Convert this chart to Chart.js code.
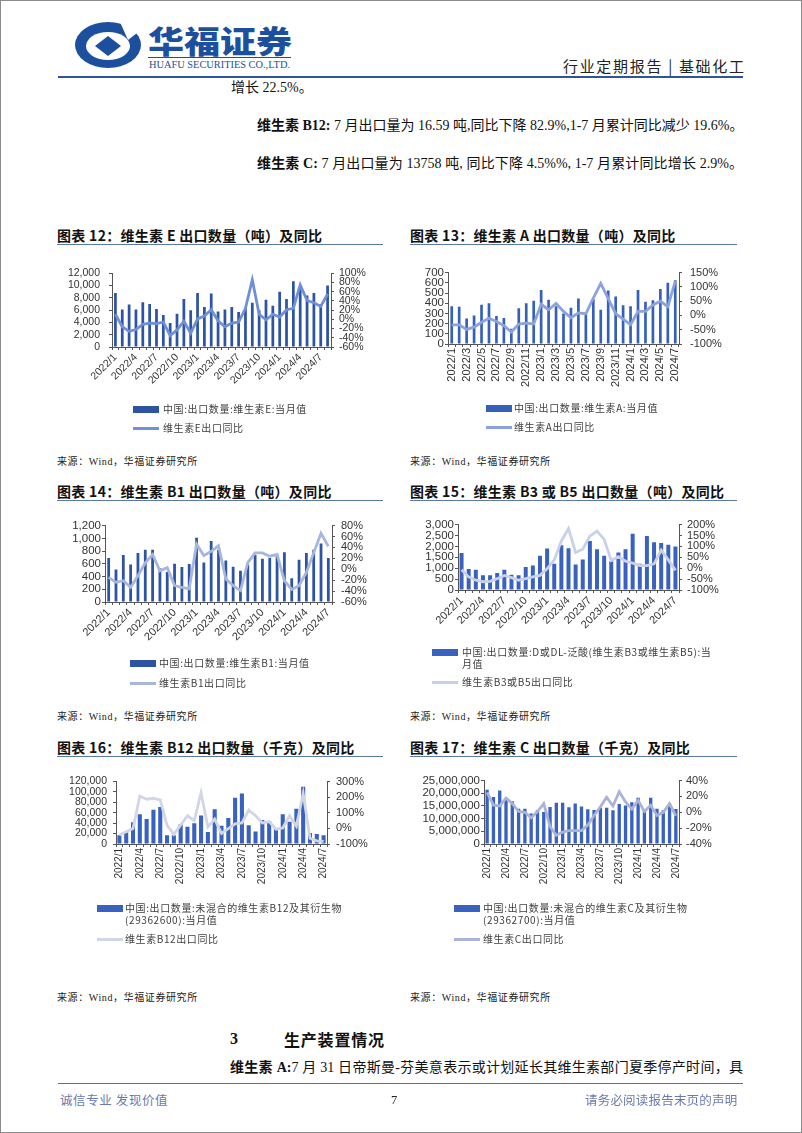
<!DOCTYPE html>
<html>
<head>
<meta charset="utf-8">
<script src="https://cdn.jsdelivr.net/npm/chart.js@4.4.1/dist/chart.umd.min.js"></script>
<style>
  body { margin: 0; background: #fff; }
  #page { position: relative; width: 802px; height: 1133px; overflow: hidden; background: #fff;
          font-family: "Liberation Serif", "Noto Sans CJK SC", serif; color: #111; }
  #frame { position: absolute; left: 0; top: 0; width: 802px; height: 1133px; box-sizing: border-box; border: 1px solid #8c8c8c; }
  .abs { position: absolute; white-space: nowrap; }
  .para { font-size: 14px; line-height: 18px; }
  .just { text-align: justify; text-align-last: justify; }
  .title { font-family: "Noto Sans CJK SC", sans-serif; font-weight: bold; font-size: 14px; line-height: 18px; letter-spacing: 0.3px; color: #111; }
  .rule { position: absolute; height: 0; border-top: 1.5px solid #5a78ad; }
  .src { font-family: "Liberation Serif", "Noto Sans CJK SC", serif; font-size: 10px; line-height: 12px; letter-spacing: 0.6px; color: #222; }
  .legend { position: absolute; display: flex; align-items: flex-start; font-family: "Noto Sans CJK SC", sans-serif;
            font-size: 10px; line-height: 11.7px; letter-spacing: 0.6px; color: #404040; }
  .legend .sw { flex: none; margin-top: 3px; }
  .legend .tx { white-space: pre; }
  canvas { position: absolute; }
  .foot { font-family: "Noto Sans CJK SC", sans-serif; font-size: 12.5px; line-height: 16px; color: #6a79ad; }
</style>
</head>
<body>
<div id="page">
  <!-- header -->
  <svg class="abs" style="left:0;top:0" width="802" height="82">
    <ellipse cx="108" cy="45" rx="33" ry="23" fill="#1d4f9f"/>
    <ellipse cx="108" cy="46" rx="22" ry="14" fill="#fff"/>
    <path d="M108 36 L121 46 L108 56 L95 46 Z" fill="#1d4f9f"/>
    <path d="M120 22 L146 26 L128 40 Z" fill="#fff"/>
    <text x="148" y="53" font-family="Noto Sans CJK SC" font-weight="900" font-size="31" fill="#1d4f9f" textLength="144" lengthAdjust="spacingAndGlyphs">华福证券</text>
    <line x1="148" y1="57.5" x2="291" y2="57.5" stroke="#1d4f9f" stroke-width="1"/>
    <text x="149" y="68" font-family="Liberation Serif" font-size="10.5" fill="#1d4f9f" textLength="141" lengthAdjust="spacingAndGlyphs">HUAFU SECURITIES CO.,LTD.</text>
    <text x="744" y="72" text-anchor="end" font-family="Noto Sans CJK SC" font-size="15" fill="#222" textLength="181" lengthAdjust="spacing">行业定期报告 | 基础化工</text>
    <line x1="58" y1="77" x2="743" y2="77" stroke="#2e5597" stroke-width="2"/>
  </svg>

  <div class="abs para" style="left:231px;top:79px">增长 22.5%。</div>
  <div class="abs para just" style="left:257px;top:117px;width:486px"><b>维生素 B12:</b> 7 月出口量为 16.59 吨,同比下降 82.9%,1-7 月累计同比减少 19.6%。</div>
  <div class="abs para just" style="left:257px;top:155px;width:486px"><b>维生素 C:</b> 7 月出口量为 13758 吨, 同比下降 4.5%%, 1-7 月累计同比增长 2.9%。</div>

  <!-- chart titles -->
  <div class="abs title" style="left:57px;top:226px">图表 12：维生素 E 出口数量（吨）及同比</div>
  <div class="rule" style="left:57px;top:244px;width:326px"></div>
  <div class="abs title" style="left:410px;top:226px">图表 13：维生素 A 出口数量（吨）及同比</div>
  <div class="rule" style="left:410px;top:244px;width:327px"></div>

  <div class="abs title" style="left:57px;top:482px">图表 14：维生素 B1 出口数量（吨）及同比</div>
  <div class="rule" style="left:57px;top:500px;width:326px"></div>
  <div class="abs title" style="left:410px;top:482px">图表 15：维生素 B3 或 B5 出口数量（吨）及同比</div>
  <div class="rule" style="left:410px;top:500px;width:327px"></div>

  <div class="abs title" style="left:57px;top:738px">图表 16：维生素 B12 出口数量（千克）及同比</div>
  <div class="rule" style="left:57px;top:756px;width:326px"></div>
  <div class="abs title" style="left:410px;top:738px">图表 17：维生素 C 出口数量（千克）及同比</div>
  <div class="rule" style="left:410px;top:756px;width:327px"></div>

  <canvas id="c12" width="326" height="137" style="left:57px;top:258px"></canvas>
  <canvas id="c13" width="327" height="132" style="left:410px;top:258px"></canvas>
  <canvas id="c14" width="326" height="132" style="left:57px;top:513px"></canvas>
  <canvas id="c15" width="327" height="120" style="left:410px;top:513px"></canvas>
  <canvas id="c16" width="326" height="122" style="left:57px;top:769px"></canvas>
  <canvas id="c17" width="327" height="122" style="left:410px;top:770px"></canvas>

  <div class="abs src" style="left:57px;top:456px">来源：Wind，华福证券研究所</div>
  <div class="abs src" style="left:410px;top:456px">来源：Wind，华福证券研究所</div>
  <div class="abs src" style="left:57px;top:711px">来源：Wind，华福证券研究所</div>
  <div class="abs src" style="left:410px;top:711px">来源：Wind，华福证券研究所</div>
  <div class="abs src" style="left:57px;top:992px">来源：Wind，华福证券研究所</div>
  <div class="abs src" style="left:410px;top:992px">来源：Wind，华福证券研究所</div>

  <!-- section 3 -->
  <div class="abs" style="left:230px;top:1029px;font-size:16px;font-weight:bold;line-height:20px">3</div>
  <div class="abs" style="left:284px;top:1029px;font-family:'Noto Sans CJK SC';font-size:16px;font-weight:bold;letter-spacing:0.8px;line-height:20px">生产装置情况</div>
  <div class="abs para just" style="left:230px;top:1059px;width:513px"><b>维生素 A:</b>7 月 31 日帝斯曼-芬美意表示或计划延长其维生素部门夏季停产时间，具</div>

  <div class="rule" style="left:58px;top:1083px;width:685px;border-top-color:#5a6fa5"></div>
  <div class="abs foot" style="left:60px;top:1092px;letter-spacing:0.6px">诚信专业 发现价值</div>
  <div class="abs foot" style="left:391px;top:1092px;font-family:'Liberation Serif';color:#222">7</div>
  <div class="abs foot" style="left:585px;top:1092px;letter-spacing:0.2px">请务必阅读报告末页的声明</div>

  <div id="frame"></div>
</div>

<script>
// ---------- data ----------
const months = ['2022/1','2022/2','2022/3','2022/4','2022/5','2022/6','2022/7','2022/8','2022/9','2022/10','2022/11','2022/12',
  '2023/1','2023/2','2023/3','2023/4','2023/5','2023/6','2023/7','2023/8','2023/9','2023/10','2023/11','2023/12',
  '2024/1','2024/2','2024/3','2024/4','2024/5','2024/6','2024/7'];
const monthsE = ['2022/1','2022/2','2022/3','2022/4','2022/5','2022/6','2022/7','2022/8','2022/9','2022/10','2022/11','2022/12',
  '2023/1','2023/2','2023/3','2023/4','2023/5','2023/6','2023/7','2023/8','2023/9','2023/10','2023/11','2023/12',
  '2024/1','2024/2','2024/3','2024/4','2024/5','2024/6','2024/7','2024/8'];

// Vitamin E (tons) and YoY %
const vitE = [8800, 6100, 6900, 6100, 7300, 7000, 6200, 5200, 3900, 5400, 7800, 6000,
  8800, 6500, 8700, 5800, 6100, 6500, 5700, 6400, 7200, 6000, 7700, 6700,
  9000, 7800, 10700, 9600, 8400, 8800, 7000, 10000];
const vitEYoy = [11, -16, -26, -22, -11, -8, -9, -6, -35, -23, -4, -30,
  1, 7, 21, -3, -16, -8, -6, 24, 86, 11, -1, 11,
  5, 21, 24, 75, 41, 36, 28, 55];

// Vitamin A (tons)
const vitA = [370, 365, 250, 280, 385, 400, 275, 255, 150, 350, 400, 425,
  530, 435, 370, 300, 355, 445, 300, 440, 335, 525, 465, 380,
  370, 530, 415, 430, 540, 600, 625];
const vitAYoy = [-33, -33, -49, -41, -24, -10, -21, -36, -58, -30, -27, -30,
  39, 20, 42, 14, -8, 9, 6, 61, 112, 59, 6, -13,
  -32, 14, 14, 37, 50, 31, 120];

// Vitamin B1 (tons)
const vitB1 = [690, 510, 740, 590, 770, 820, 820, 530, 470, 600, 550, 595,
  1010, 620, 960, 820, 650, 555, 490, 590, 740, 680, 690, 740,
  780, 375, 665, 770, 820, 920, 690];
const vitB1Yoy = [-15, -24, -21, -33, -12, 12, 27, -3, 3, -30, -33, -36,
  46, 25, 33, 43, -18, -30, -39, 12, 30, 30, 24, 27,
  -21, -37, -30, -6, 30, 66, 42];

// Vitamin B3 / B5 (tons)
const vitB35 = [1700, 960, 930, 675, 675, 780, 930, 700, 675, 1050, 1125, 1575,
  1900, 1200, 2050, 1920, 1170, 1400, 2250, 1875, 1575, 1320, 1725, 1875,
  2580, 1200, 2475, 2190, 2160, 2070, 1995];
const vitB35Yoy = [-7, -40, -55, -62, -60, -48, -33, -43, -55, -48, -40, -33,
  -3, 38, 125, 182, 72, 87, 147, 170, 132, 35, 53, 32,
  23, 12, 12, 20, 83, 38, -10];

// Vitamin B12 (kg)
const vitB12 = [17000, 22000, 42000, 57000, 48000, 66000, 71000, 17000, 17000, 38000, 33000, 40000,
  55000, 23000, 67000, 35000, 50000, 89000, 97000, 36000, 24000, 46000, 44000, 31000,
  57000, 43000, 68000, 110000, 21000, 19000, 16590];
const vitB12Yoy = [-42, -22, -1, 208, 187, 193, 183, 19, -38, 23, 81, 50,
  229, 9, 60, -32, -1, 29, 35, 118, 81, 35, 44, -5,
  3, 81, 15, 225, -63, -80, -83];

// Vitamin C (kg)
const vitC = [21400000, 18500000, 21100000, 17500000, 16900000, 13900000, 13900000, 12000000, 13300000, 12600000, 14600000, 16300000,
  16300000, 14500000, 16000000, 14800000, 13700000, 13400000, 14300000, 14300000, 13300000, 15800000, 15200000, 16500000,
  18200000, 13500000, 18200000, 13900000, 13300000, 15900000, 13758000];
const vitCYoy = [25, 9, 8, 18, 11, 1, 0, -7, 1, 11, -18, -29,
  -25, -23, -23, -23, -16, -4, 7, 19, 8, 26, 13, 4,
  15, 1, 9, -4, 0, 11, -4.5];

// series names
const barNames = {
  e: '中国:出口数量:维生素E:当月值',
  a: '中国:出口数量:维生素A:当月值',
  b1: '中国:出口数量:维生素B1:当月值',
  b35: '中国:出口数量:D或DL-泛酸(维生素B3或维生素B5):当\n月值',
  b12: '中国:出口数量:未混合的维生素B12及其衍生物\n(29362600):当月值',
  c: '中国:出口数量:未混合的维生素C及其衍生物\n(29362700):当月值'
};
const lineNames = {
  e: '维生素E出口同比',
  a: '维生素A出口同比',
  b1: '维生素B1出口同比',
  b35: '维生素B3或B5出口同比',
  b12: '维生素B12出口同比',
  c: '维生素C出口同比'
};

// ---------- drawing ----------
Chart.defaults.font.family = '"Liberation Sans", Arial, sans-serif';
Chart.defaults.color = '#333';

function buildChart(id, o) {
  const ctx = document.getElementById(id).getContext('2d');
  const axisColor = '#555';
  return new Chart(ctx, {
    data: {
      labels: o.labels,
      datasets: [
        { type: 'line', label: o.lineName, data: o.yoy, yAxisID: 'y1', borderColor: o.lineColor,
          borderWidth: o.lineWidth, pointRadius: 0, tension: 0, order: 0 },
        { type: 'bar', label: o.barName, data: o.bars, yAxisID: 'y', backgroundColor: o.barColor,
          barPercentage: o.barPct, categoryPercentage: 1, order: 1 }
      ]
    },
    options: {
      responsive: false,
      animation: false,
      devicePixelRatio: 1,
      layout: { padding: { top: 10, left: 0, right: 0, bottom: 0 } },
      plugins: { legend: { display: false }, tooltip: { enabled: false } },
      scales: {
        x: {
          grid: { display: true, drawOnChartArea: false, tickLength: 3, color: axisColor },
          border: { color: axisColor },
          ticks: {
            autoSkip: false, minRotation: o.rot, maxRotation: o.rot, padding: 1,
            font: { size: o.xFont }, color: '#333',
            callback: function (v, i) { return i % o.step === 0 ? this.getLabelForValue(v) : ''; }
          },
          afterFit: s => { s.height = o.xH; }
        },
        y: {
          position: 'left', min: o.yMin, max: o.yMax,
          grid: { display: true, drawOnChartArea: false, tickLength: 3, color: axisColor },
          border: { color: axisColor },
          ticks: { stepSize: o.yStep, autoSkip: false, padding: o.lPad, font: { size: o.yFont }, color: '#333',
                   callback: v => v.toLocaleString('en-US') },
          afterFit: s => { s.width = o.leftW; }
        },
        y1: {
          position: 'right', min: o.rMin, max: o.rMax,
          grid: { display: true, drawOnChartArea: false, tickLength: 3, color: axisColor },
          border: { color: axisColor },
          ticks: { stepSize: o.rStep, autoSkip: false, padding: o.rPad, font: { size: o.rFont }, color: '#333',
                   callback: v => v + '%' },
          afterFit: s => { s.width = o.rightW; }
        }
      }
    }
  });
}

function addLegend(left, textLeft, rows, barColor, lineColor, barName, lineName) {
  const page = document.getElementById('page');
  const items = [
    { top: rows[0], name: barName, sw: `width:26px;height:7px;background:${barColor};margin-top:2.5px` },
    { top: rows[1], name: lineName, sw: `width:26px;height:3px;background:${lineColor};margin-top:4.5px` }
  ];
  items.forEach(it => {
    const d = document.createElement('div');
    d.className = 'legend';
    d.style.left = left + 'px';
    d.style.top = (it.top - 6) + 'px';
    d.innerHTML = `<div class="sw" style="${it.sw}"></div><div class="tx" style="margin-left:${textLeft - left - 26}px"></div>`;
    d.querySelector('.tx').textContent = it.name;
    page.appendChild(d);
  });
}

const BAR = '#2d53a3';

buildChart('c12', {
  labels: monthsE, bars: vitE, yoy: vitEYoy, barName: barNames.e, lineName: lineNames.e,
  barColor: BAR, lineColor: '#6f8fd9', lineWidth: 2.8, barPct: 0.4,
  rot: 45, step: 3, xFont: 10.5, xH: 48,
  yMin: 0, yMax: 12000, yStep: 2000, yFont: 10.5, lPad: 9, leftW: 55,
  rMin: -60, rMax: 100, rStep: 20, rFont: 10.5, rPad: 5, rightW: 52
});
addLegend(133, 163, [409, 428], BAR, '#6f8fd9', barNames.e, lineNames.e);

buildChart('c13', {
  labels: months, bars: vitA, yoy: vitAYoy, barName: barNames.a, lineName: lineNames.a,
  barColor: '#3560b8', lineColor: '#8ba2dc', lineWidth: 2.8, barPct: 0.36,
  rot: 90, step: 2, xFont: 11, xH: 46,
  yMin: 0, yMax: 700, yStep: 100, yFont: 11.5, lPad: 1, leftW: 38,
  rMin: -100, rMax: 150, rStep: 50, rFont: 11, rPad: 8, rightW: 58
});
addLegend(486, 514, [408, 427], '#3560b8', '#8ba2dc', barNames.a, lineNames.a);

buildChart('c14', {
  labels: months, bars: vitB1, yoy: vitB1Yoy, barName: barNames.b1, lineName: lineNames.b1,
  barColor: BAR, lineColor: '#a7b6de', lineWidth: 2.8, barPct: 0.38,
  rot: 45, step: 3, xFont: 11, xH: 43,
  yMin: 0, yMax: 1200, yStep: 200, yFont: 11.5, lPad: 1, leftW: 48,
  rMin: -60, rMax: 80, rStep: 20, rFont: 11, rPad: 6, rightW: 51
});
addLegend(130, 159, [663, 683], BAR, '#a7b6de', barNames.b1, lineNames.b1);

buildChart('c15', {
  labels: months, bars: vitB35, yoy: vitB35Yoy, barName: barNames.b35, lineName: lineNames.b35,
  barColor: '#3962c0', lineColor: '#c9d0ea', lineWidth: 2.8, barPct: 0.56,
  rot: 45, step: 3, xFont: 11, xH: 43,
  yMin: 0, yMax: 3000, yStep: 500, yFont: 11.5, lPad: 1, leftW: 48,
  rMin: -100, rMax: 200, rStep: 50, rFont: 11, rPad: 5, rightW: 58
});
addLegend(432, 462, [652, 682], '#3962c0', '#c9d0ea', barNames.b35, lineNames.b35);

buildChart('c16', {
  labels: months, bars: vitB12, yoy: vitB12Yoy, barName: barNames.b12, lineName: lineNames.b12,
  barColor: '#3962c0', lineColor: '#d2d6e4', lineWidth: 2.8, barPct: 0.6,
  rot: 90, step: 3, xFont: 10, xH: 47,
  yMin: 0, yMax: 120000, yStep: 20000, yFont: 10.5, lPad: 6, leftW: 59,
  rMin: -100, rMax: 300, rStep: 100, rFont: 11, rPad: 6, rightW: 56
});
addLegend(97, 125, [908, 939], '#3962c0', '#d2d6e4', barNames.b12, lineNames.b12);

buildChart('c17', {
  labels: months, bars: vitC, yoy: vitCYoy, barName: barNames.c, lineName: lineNames.c,
  barColor: '#3962c0', lineColor: '#a9b3d8', lineWidth: 2.8, barPct: 0.53,
  rot: 90, step: 3, xFont: 10, xH: 48,
  yMin: 0, yMax: 25000000, yStep: 5000000, yFont: 11.5, lPad: 1, leftW: 74,
  rMin: -40, rMax: 40, rStep: 20, rFont: 11, rPad: 4, rightW: 58
});
addLegend(454, 483, [908, 939], '#3962c0', '#a9b3d8', barNames.c, lineNames.c);
</script>
</body>
</html>
